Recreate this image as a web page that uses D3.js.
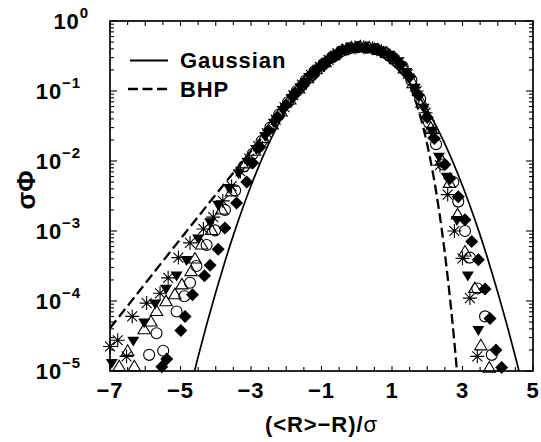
<!DOCTYPE html>
<html><head><meta charset="utf-8">
<script src="https://cdn.jsdelivr.net/npm/d3@7"></script>
<style>body{margin:0;background:#fff}svg{display:block}</style>
</head><body>
<svg id="c" width="541" height="442"></svg>
<script>
// ---- data ----
const xTickLabels = [-7, -5, -3, -1, 1, 3, 5];
const yTickLabels = [1e-5, 1e-4, 1e-3, 1e-2, 1e-1, 1];

const gaussX = [-4.75,-4.5,-4.25,-4,-3.75,-3.5,-3.25,-3,-2.75,-2.5,-2.25,-2,-1.75,-1.5,-1.25,-1,-0.75,-0.5,-0.25,0,0.25,0.5,0.75,1,1.25,1.5,1.75,2,2.25,2.5,2.75,3,3.25,3.5,3.75,4,4.25,4.5,4.75];
const gaussY = [5.04e-6,1.598e-5,4.77e-5,1.338e-4,3.527e-4,8.727e-4,2.029e-3,4.432e-3,9.094e-3,1.753e-2,3.174e-2,5.399e-2,8.628e-2,0.1295,0.1826,0.2420,0.3011,0.3521,0.3867,0.3989,0.3867,0.3521,0.3011,0.2420,0.1826,0.1295,8.628e-2,5.399e-2,3.174e-2,1.753e-2,9.094e-3,4.432e-3,2.029e-3,8.727e-4,3.527e-4,1.338e-4,4.77e-5,1.598e-5,5.04e-6];

const bhpX = [-7,-6.5,-6,-5.5,-5,-4.5,-4,-3.5,-3,-2.5,-2,-1.5,-1.25,-1,-0.75,-0.5,-0.25,0,0.25,0.5,0.75,1,1.25,1.5,1.75,2,2.25,2.4,2.5,2.6,2.75,2.85,3];
const bhpY = [4.09e-5,8.52e-5,1.776e-4,3.71e-4,7.71e-4,1.601e-3,3.31e-3,6.81e-3,1.388e-2,2.787e-2,5.463e-2,0.1032,0.1389,0.1833,0.2363,0.2956,0.3559,0.4081,0.4404,0.4398,0.3984,0.3190,0.2185,0.1229,0.0538,0.0172,3.69e-3,1.158e-3,4.78e-4,1.78e-4,3.27e-5,9.0e-6,1.0e-6];

const starX = [-7.0,-6.78,-6.53,-6.37,-5.96,-5.58,-5.35,-5.06,-4.73,-4.35,-4.07,-3.8,-3.55,-3.3,-3.05,-2.8,-2.55,-2.3,-2.05,-1.8,-1.55,-1.3,-1.05,-0.8,-0.55,-0.3,-0.05,0.2,0.45,0.7,0.95,1.2,1.45,1.7,1.95,2.15,2.36,2.58,2.77,3.0,3.21,3.42];
const starY = [2.24e-5,2.75e-5,1.62e-5,6.03e-5,9.33e-5,1.29e-4,2.14e-4,4.17e-4,6.76e-4,1.07e-3,1.58e-3,2.69e-3,4.37e-3,7.08e-3,1.08e-2,1.63e-2,2.51e-2,3.90e-2,5.89e-2,8.71e-2,0.123,0.170,0.221,0.279,0.345,0.398,0.418,0.421,0.407,0.370,0.319,0.258,0.175,0.100,0.049,0.0248,8.71e-3,3.31e-3,1.0e-3,4.07e-4,1.10e-4,1.62e-5];

const downX = [-6.95,-6.34,-6.03,-5.72,-5.41,-5.11,-4.83,-4.50,-4.16,-3.93,-3.62,-3.35,-3.1,-2.85,-2.6,-2.35,-2.1,-1.85,-1.6,-1.35,-1.1,-0.85,-0.6,-0.35,-0.1,0.15,0.4,0.65,0.9,1.15,1.4,1.65,1.9,2.12,2.33,2.55,2.84,3.15,3.45];
const downY = [1.32e-5,2.75e-5,5.01e-5,9.33e-5,1.51e-4,2.34e-4,3.89e-4,7.94e-4,1.35e-3,2.40e-3,4.17e-3,6.76e-3,9.9e-3,1.50e-2,2.29e-2,3.57e-2,5.44e-2,8.05e-2,0.115,0.160,0.210,0.266,0.333,0.387,0.415,0.424,0.411,0.378,0.333,0.269,0.190,0.113,0.0582,0.0275,1.17e-2,6.03e-3,1.45e-3,2.34e-4,3.89e-5];

const upX = [-6.74,-6.50,-6.31,-6.03,-5.84,-5.68,-5.41,-5.16,-4.96,-4.70,-4.59,-4.40,-4.12,-3.83,-3.55,-3.15,-2.9,-2.65,-2.4,-2.15,-1.9,-1.65,-1.4,-1.15,-0.9,-0.65,-0.4,-0.15,0.1,0.35,0.6,0.85,1.1,1.35,1.6,1.85,2.1,2.41,2.63,2.86,3.07,3.35,3.52,3.76];
const upY = [1.15e-5,1.91e-5,1.15e-5,3.89e-5,5.01e-5,7.08e-5,9.77e-5,1.23e-4,1.70e-4,2.63e-4,3.98e-4,6.31e-4,1.02e-3,2.00e-3,3.63e-3,9.12e-3,1.38e-2,2.09e-2,3.28e-2,5.01e-2,7.45e-2,0.107,0.150,0.201,0.254,0.319,0.377,0.412,0.427,0.414,0.386,0.344,0.281,0.206,0.127,0.0668,0.0295,1.02e-2,4.79e-3,1.70e-3,5.01e-4,1.51e-4,2.29e-5,1.10e-5];

const circX = [-5.89,-5.68,-5.49,-5.11,-4.89,-4.73,-4.55,-4.26,-4.02,-3.74,-3.45,-3.2,-2.95,-2.7,-2.45,-2.2,-1.95,-1.7,-1.45,-1.2,-0.95,-0.7,-0.45,-0.2,0.05,0.3,0.55,0.8,1.05,1.3,1.55,1.8,2.05,2.25,2.45,2.74,2.88,3.07,3.21,3.42,3.64,3.83];
const circY = [1.70e-5,3.47e-5,1.95e-5,7.08e-5,1.17e-4,1.82e-4,3.16e-4,6.31e-4,1.02e-3,2.00e-3,3.80e-3,8.38e-3,1.27e-2,1.92e-2,3.00e-2,4.60e-2,6.89e-2,0.100,0.141,0.191,0.243,0.305,0.366,0.408,0.424,0.416,0.394,0.355,0.293,0.224,0.143,0.0766,0.0351,0.0174,8.91e-3,5.01e-3,2.63e-3,1.0e-3,4.17e-4,1.51e-4,6.03e-5,1.70e-5];

const diamX = [-5.53,-5.39,-4.99,-4.87,-4.66,-4.32,-4.16,-3.93,-3.74,-3.41,-3.12,-2.95,-2.75,-2.5,-2.25,-2.0,-1.75,-1.5,-1.25,-1.0,-0.75,-0.5,-0.25,0,0.25,0.5,0.75,1.0,1.25,1.5,1.75,2.0,2.2,2.5,2.64,2.88,3.07,3.26,3.45,3.64,3.78,3.95,4.11];
const diamY = [1.15e-5,1.48e-5,3.80e-5,6.03e-5,1.23e-4,2.29e-4,3.24e-4,5.50e-4,1.10e-3,2.51e-3,5.01e-3,9.33e-3,1.58e-2,2.74e-2,4.24e-2,6.37e-2,9.33e-2,0.132,0.181,0.231,0.292,0.356,0.404,0.421,0.419,0.403,0.362,0.305,0.240,0.161,0.0875,0.0417,0.0209,8.91e-3,5.62e-3,3.09e-3,1.45e-3,7.08e-4,3.89e-4,1.48e-4,5.62e-5,2.00e-5,1.12e-5];

const legendLabels = ["Gaussian", "BHP"];

// ---- layout ----
const W = 541, H = 442;
const L = 110, R = 533, T = 21, B = 371;
const FONT = "'Liberation Sans', Arial, Helvetica, sans-serif";
const LS = "0.9px";
const svg = d3.select("#c");
svg.append("rect").attr("width", W).attr("height", H).attr("fill", "#fff");

const x = d3.scaleLinear().domain([-7, 5]).range([L, R]);
const y = d3.scaleLog().domain([1e-5, 1]).range([B, T]);

svg.append("defs").append("clipPath").attr("id", "clip")
  .append("rect").attr("x", L).attr("y", T).attr("width", R - L).attr("height", B - T);

// ticks
const xMinor = d3.range(-7, 5.001, 0.5);
const yMinor = [];
for (let e = -5; e < 0; e++) for (let k = 1; k <= 9; k++) yMinor.push(k * Math.pow(10, e));
yMinor.push(1);

const tk = svg.append("g").attr("stroke", "#000").attr("stroke-width", 1.1);
xMinor.forEach(v => {
  const len = Number.isInteger(v) ? 5 : 4;
  tk.append("line").attr("x1", x(v)).attr("x2", x(v)).attr("y1", B).attr("y2", B - len);
  tk.append("line").attr("x1", x(v)).attr("x2", x(v)).attr("y1", T).attr("y2", T + len);
});
yMinor.forEach(v => {
  const major = Math.abs(Math.log10(v) - Math.round(Math.log10(v))) < 1e-9;
  const len = major ? 7 : 4;
  tk.append("line").attr("x1", L).attr("x2", L + len).attr("y1", y(v)).attr("y2", y(v));
  tk.append("line").attr("x1", R).attr("x2", R - len).attr("y1", y(v)).attr("y2", y(v));
});

// curves
const line = d3.line().x(d => x(d[0])).y(d => y(d[1])).curve(d3.curveMonotoneX);
const curves = svg.append("g").attr("clip-path", "url(#clip)").attr("fill", "none").attr("stroke", "#000");
curves.append("path").attr("d", line(gaussX.map((v, i) => [v, gaussY[i]]))).attr("stroke-width", 1.7);
curves.append("path").attr("d", line(bhpX.map((v, i) => [v, bhpY[i]]))).attr("stroke-width", 2.3).attr("stroke-dasharray", "10,4.5");

// markers
const mk = svg.append("g");
function pts(xs, ys) { return xs.map((v, i) => [x(v), y(ys[i])]); }
pts(starX, starY).forEach(([px, py]) => {
  const r = 7, r2 = r * Math.SQRT1_2;
  mk.append("path").attr("d", `M${px - r},${py}L${px + r},${py}M${px},${py - r}L${px},${py + r}M${px - r2},${py - r2}L${px + r2},${py + r2}M${px - r2},${py + r2}L${px + r2},${py - r2}`)
    .attr("stroke", "#000").attr("stroke-width", 1.1).attr("fill", "none");
});
pts(downX, downY).forEach(([px, py]) => {
  const s = 6;
  mk.append("path").attr("d", `M${px - s},${py - s * 0.6}L${px + s},${py - s * 0.6}L${px},${py + s * 1.05}Z`).attr("fill", "#000");
});
pts(upX, upY).forEach(([px, py]) => {
  const s = 6.2;
  mk.append("path").attr("d", `M${px - s},${py + s * 0.65}L${px + s},${py + s * 0.65}L${px},${py - s * 1.05}Z`)
    .attr("fill", "none").attr("stroke", "#000").attr("stroke-width", 1.1);
});
pts(circX, circY).forEach(([px, py]) => {
  mk.append("circle").attr("cx", px).attr("cy", py).attr("r", 5.5).attr("fill", "none").attr("stroke", "#000").attr("stroke-width", 1.1);
});
pts(diamX, diamY).forEach(([px, py]) => {
  const s = 6.5;
  mk.append("path").attr("d", `M${px},${py - s}L${px + s},${py}L${px},${py + s}L${px - s},${py}Z`).attr("fill", "#000");
});

// frame
svg.append("rect").attr("x", L).attr("y", T).attr("width", R - L).attr("height", B - T)
  .attr("fill", "none").attr("stroke", "#000").attr("stroke-width", 1.7);

// x tick labels
const fmt = d3.format("d");
svg.append("g").selectAll("text").data(xTickLabels).join("text")
  .attr("x", d => x(d)).attr("y", B + 27).attr("text-anchor", "middle")
  .attr("font-family", FONT).attr("font-weight", "bold").attr("font-size", 22).attr("letter-spacing", LS)
  .text(d => fmt(d));

// y tick labels
const yl = svg.append("g").attr("font-family", FONT).attr("font-weight", "bold");
yTickLabels.forEach(v => {
  const e = Math.round(Math.log10(v));
  const t = yl.append("text").attr("x", e === 0 ? 89 : 81).attr("y", y(v) + 8).attr("text-anchor", "end")
    .attr("font-size", 22).attr("letter-spacing", LS);
  t.append("tspan").text("10");
  t.append("tspan").attr("font-size", 15).attr("dy", -11).text(e === 0 ? "0" : "\u2212" + (-e));
});

// axis titles
const xt = svg.append("text").attr("x", (L + R) / 2).attr("y", 432).attr("text-anchor", "middle")
  .attr("font-family", FONT).attr("font-weight", "bold").attr("font-size", 22).attr("letter-spacing", LS);
xt.append("tspan").text("(<R>\u2212R)/");
xt.append("tspan").attr("font-weight", "normal").text("\u03c3");

svg.append("text").attr("transform", `translate(35,${190}) rotate(-90)`).attr("text-anchor", "middle")
  .attr("font-family", FONT).attr("font-weight", "bold").attr("font-size", 26).text("\u03c3\u03a6");

// legend
const lg = svg.append("g");
lg.append("line").attr("x1", 130).attr("x2", 168).attr("y1", 60.5).attr("y2", 60.5).attr("stroke", "#000").attr("stroke-width", 1.8);
lg.append("line").attr("x1", 128).attr("x2", 168).attr("y1", 89).attr("y2", 89).attr("stroke", "#000").attr("stroke-width", 2.3).attr("stroke-dasharray", "10,4.5");
lg.selectAll("text").data(legendLabels).join("text")
  .attr("x", 180).attr("y", (d, i) => 68 + i * 29)
  .attr("font-family", FONT).attr("font-weight", "bold").attr("font-size", 22).attr("letter-spacing", LS).text(d => d);
</script>
</body></html>
